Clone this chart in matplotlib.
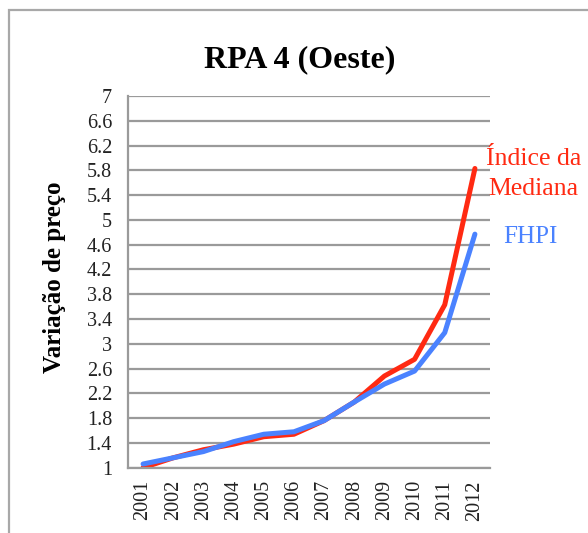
import matplotlib
matplotlib.use("Agg")
import matplotlib.pyplot as plt
from matplotlib.patches import Rectangle
from matplotlib.ticker import FuncFormatter

# ── Data ─────────────────────────────────────────────────────────────
years = ["2001", "2002", "2003", "2004", "2005", "2006",
         "2007", "2008", "2009", "2010", "2011", "2012"]
indice_mediana = [1.00, 1.16, 1.29, 1.38, 1.50, 1.54, 1.76, 2.06, 2.48, 2.75, 3.63, 5.83]
fhpi = [1.06, 1.16, 1.26, 1.42, 1.54, 1.58, 1.76, 2.06, 2.35, 2.56, 3.18, 4.77]
y_ticks = [1, 1.4, 1.8, 2.2, 2.6, 3, 3.4, 3.8, 4.2, 4.6, 5, 5.4, 5.8, 6.2, 6.6, 7]

RED = "#ff2a12"
BLUE = "#4a82ff"
GRID = "#9a9a9a"

plt.rcParams.update({
    "font.family": ["Liberation Serif", "DejaVu Serif"],
    "text.color": "black",
})

W, H = 588, 533
fig = plt.figure(figsize=(W / 100, H / 100), dpi=100)
fig.patch.set_facecolor("white")


def fy(py):
    """pixel row (from top) -> figure fraction"""
    return 1 - py / H


# outer frame (cut off on the right and bottom in the reference)
fig.add_artist(Rectangle((9 / W, -0.1), 1.2, fy(10) + 0.1,
                         transform=fig.transFigure, fill=False,
                         edgecolor="#a8a8a8", linewidth=1.6))

ax = fig.add_axes([128 / W, fy(467.7), 362 / W, (467.7 - 96) / H])
x = range(len(years))
ax.plot(x, indice_mediana, color=RED, linewidth=3.6, solid_capstyle="round")
ax.plot(x, fhpi, color=BLUE, linewidth=3.6, solid_capstyle="round")

ax.set_xlim(-0.5, len(years) - 0.5)
ax.set_ylim(1, 7)
ax.set_yticks(y_ticks)
ax.yaxis.set_major_formatter(FuncFormatter(lambda v, _: f"{v:g}"))
ax.set_xticks(list(x))
ax.set_xticklabels(years, rotation=90)
ax.tick_params(axis="both", length=0, labelsize=14.5, colors="#222222")
ax.tick_params(axis="y", pad=11.5)
ax.tick_params(axis="x", pad=9)

ax.grid(axis="y", color=GRID, linewidth=1.6)
ax.set_axisbelow(True)
for s in ("top", "right"):
    ax.spines[s].set_visible(False)
for s in ("left", "bottom"):
    ax.spines[s].set_color(GRID)
    ax.spines[s].set_linewidth(1.6)

fig.text(300 / W, fy(67), "RPA 4 (Oeste)", ha="center", va="baseline",
         fontsize=23, fontweight="bold")
fig.text(54 / W, fy(277), "Variação de preço", ha="center", va="center",
         rotation=90, fontsize=18, fontweight="bold")
fig.text(486 / W, fy(165), "Índice da", ha="left", va="baseline",
         fontsize=18.5, color=RED)
fig.text(488 / W, fy(195), "Mediana", ha="left", va="baseline",
         fontsize=18.5, color=RED)
fig.text(503 / W, fy(243), "FHPI", ha="left", va="baseline",
         fontsize=18, color=BLUE)

fig.savefig("out.png", dpi=100)
